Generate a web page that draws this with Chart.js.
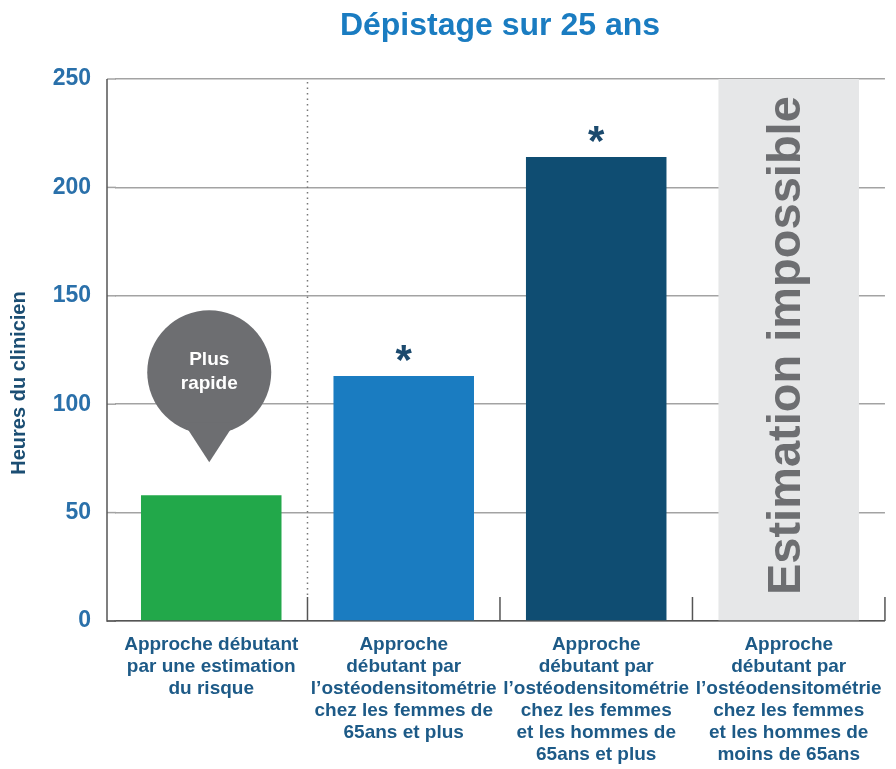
<!DOCTYPE html>
<html><head><meta charset="utf-8">
<script src="https://cdn.jsdelivr.net/npm/chart.js@4/dist/chart.umd.min.js"></script>
<style>html,body{margin:0;padding:0;background:#fff;}#wrap{width:896px;height:769px;}</style>
</head><body><div id="wrap"><canvas id="c" width="896" height="769"></canvas></div>
<script>
const categories = [
  ["Approche débutant", "par une estimation", "du risque"],
  ["Approche", "débutant par", "l’ostéodensitométrie", "chez les femmes de", "65ans et plus"],
  ["Approche", "débutant par", "l’ostéodensitométrie", "chez les femmes", "et les hommes de", "65ans et plus"],
  ["Approche", "débutant par", "l’ostéodensitométrie", "chez les femmes", "et les hommes de", "moins de 65ans"]
];
const hoursValues = [58, 113, 214, null];
const impossibleValues = [null, null, null, 250];
const significant = [false, true, true, false];
const yTicks = [0, 50, 100, 150, 200, 250];
const titleText = "Dépistage sur 25 ans";
const yTitle = "Heures du clinicien";
const bubbleLines = ["Plus", "rapide"];
const impossibleText = "Estimation impossible";

const FONT = "'Liberation Sans', Arial, sans-serif";
const AXIS_X = 107;

const annot = {
  id: 'annot',
  beforeDatasetsDraw(chart) {
    const ctx = chart.ctx, y = chart.scales.y, ca = chart.chartArea;
    ctx.save();
    ctx.lineWidth = 1.5;
    ctx.strokeStyle = '#a3a3a3';
    yTicks.forEach(v => {
      const py = y.getPixelForValue(v);
      ctx.beginPath(); ctx.moveTo(AXIS_X, py); ctx.lineTo(ca.left + 1, py); ctx.stroke();
    });
    ctx.strokeStyle = '#555';
    ctx.beginPath(); ctx.moveTo(AXIS_X, ca.bottom); ctx.lineTo(ca.left + 1, ca.bottom); ctx.stroke();
    ctx.beginPath(); ctx.moveTo(AXIS_X, ca.top); ctx.lineTo(AXIS_X, ca.bottom + 0.75); ctx.stroke();
    ctx.translate(19, 383); ctx.rotate(-Math.PI / 2);
    ctx.fillStyle = '#1b4e73'; ctx.font = 'bold 20px ' + FONT; ctx.textAlign = 'center'; ctx.textBaseline = 'middle';
    ctx.fillText(yTitle, 0, 0);
    ctx.restore();
  },
  afterDatasetsDraw(chart) {
    const ctx = chart.ctx, x = chart.scales.x, ca = chart.chartArea;
    const half = (x.getPixelForValue(1) - x.getPixelForValue(0)) / 2;
    ctx.save();
    const xs = x.getPixelForValue(0) + half;
    ctx.strokeStyle = '#777'; ctx.lineWidth = 1.5; ctx.setLineDash([1.5, 4]);
    ctx.beginPath(); ctx.moveTo(xs, ca.top + 3); ctx.lineTo(xs, ca.bottom - 24); ctx.stroke();
    ctx.setLineDash([]);
    ctx.strokeStyle = '#555';
    for (let i = 0; i < categories.length; i++) {
      const bx = x.getPixelForValue(i) + half;
      ctx.beginPath(); ctx.moveTo(bx, ca.bottom - 24); ctx.lineTo(bx, ca.bottom); ctx.stroke();
    }
    const meta0 = chart.getDatasetMeta(0);
    ctx.fillStyle = '#1b4a6e'; ctx.font = 'bold 42px ' + FONT; ctx.textAlign = 'center'; ctx.textBaseline = 'alphabetic';
    significant.forEach((s, i) => { if (s) { const b = meta0.data[i]; ctx.fillText('*', b.x, b.y - 2); } });
    const b0 = meta0.data[0];
    const cx = b0.x - 2, tipY = b0.y - 33, cy = tipY - 90, r = 62;
    ctx.fillStyle = '#6d6e71';
    ctx.beginPath(); ctx.arc(cx, cy, r, 0, Math.PI * 2); ctx.fill();
    ctx.beginPath(); ctx.moveTo(cx - 26, cy + 50); ctx.lineTo(cx, tipY); ctx.lineTo(cx + 26, cy + 50); ctx.closePath(); ctx.fill();
    ctx.fillStyle = '#fff'; ctx.font = 'bold 19px ' + FONT; ctx.textBaseline = 'middle';
    ctx.fillText(bubbleLines[0], cx, cy - 12);
    ctx.fillText(bubbleLines[1], cx, cy + 12);
    const b3 = chart.getDatasetMeta(1).data[3];
    ctx.translate(b3.x - 2, (b3.y + b3.base) / 2 - 4);
    ctx.rotate(-Math.PI / 2);
    ctx.fillStyle = '#6d6e71'; ctx.font = 'bold 47px ' + FONT; ctx.textBaseline = 'middle';
    ctx.fillText(impossibleText, 0, 0);
    ctx.restore();
  }
};

new Chart(document.getElementById('c'), {
  type: 'bar',
  data: {
    labels: categories,
    datasets: [
      { label: yTitle, data: hoursValues, backgroundColor: ['#22a84a', '#1a7cc1', '#0f4d72', '#e6e7e8'],
        grouped: false, categoryPercentage: 1, barPercentage: 0.73 },
      { label: impossibleText, data: impossibleValues, backgroundColor: '#e6e7e8',
        grouped: false, categoryPercentage: 1, barPercentage: 0.73 }
    ]
  },
  options: {
    responsive: false, animation: false, devicePixelRatio: 1,
    layout: { padding: { left: 0, right: 8, top: 0, bottom: 0 } },
    plugins: {
      legend: { display: false }, tooltip: { enabled: false },
      title: { display: true, text: titleText, color: '#1a7cc1', fullSize: false,
        font: { family: FONT, size: 32, weight: 'bold' }, padding: { top: 7, bottom: 33.6 } }
    },
    scales: {
      x: {
        grid: { display: false, drawTicks: false },
        border: { display: true, color: '#555', width: 1.5 },
        ticks: { color: '#1d5a87', font: { family: FONT, size: 19, weight: 'bold', lineHeight: 1.16 },
          maxRotation: 0, minRotation: 0, autoSkip: false, padding: 13 },
        afterFit: s => { s.height = 148; }
      },
      y: {
        min: 0, max: 250,
        afterBuildTicks: s => { s.ticks = yTicks.map(v => ({ value: v })); },
        grid: { color: '#a3a3a3', lineWidth: 1.5, drawTicks: false },
        border: { display: false },
        ticks: { color: '#2a70aa', font: { family: FONT, size: 23, weight: 'bold' }, padding: 24 },
        afterFit: s => { s.width = 115; }
      }
    }
  },
  plugins: [annot]
});
</script></body></html>
